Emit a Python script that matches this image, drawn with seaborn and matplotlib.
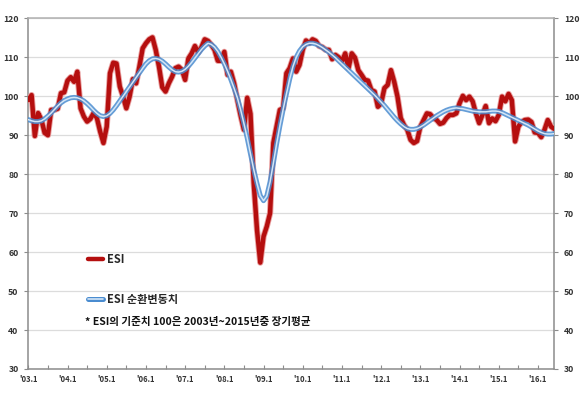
import numpy as np
import pandas as pd
import matplotlib
matplotlib.use("Agg")
import matplotlib.pyplot as plt
import seaborn as sns
from matplotlib.lines import Line2D
import matplotlib.patheffects as pe

# ==========================================
# DATA (monthly, 2003.1 ~ 2016.6)
# ==========================================

esi = [
    99.0, 100.3, 89.8, 95.7, 94.0, 90.6, 90.0, 96.5, 96.5, 96.8, 100.8, 101.0,   # 2003
    104.0, 104.9, 103.7, 106.3, 96.9, 94.8, 93.5, 94.2, 95.7, 94.4, 90.9, 88.0,   # 2004
    92.2, 105.9, 108.6, 108.4, 102.5, 99.9, 96.9, 99.9, 104.4, 103.3, 107.6, 112.3,  # 2005
    113.6, 114.6, 115.1, 111.9, 107.6, 102.3, 101.2, 103.3, 105.0, 107.2, 107.6, 106.8,  # 2006
    104.2, 109.7, 111.0, 112.9, 111.2, 112.6, 114.6, 114.2, 113.2, 111.9, 109.1, 109.1,  # 2007
    111.4, 105.5, 106.3, 103.3, 99.0, 95.0, 91.4, 99.6, 95.5, 77.7, 65.7, 57.3,   # 2008
    64.0, 66.6, 70.0, 88.0, 92.2, 96.5, 96.9, 105.9, 107.2, 109.7, 106.3, 108.0,   # 2009
    111.9, 114.3, 113.6, 114.6, 114.2, 112.9, 112.6, 111.9, 111.9, 109.5, 110.6, 110.0,  # 2010
    108.9, 111.0, 107.2, 111.0, 109.9, 106.7, 105.5, 104.2, 104.0, 101.6, 101.2, 97.3,  # 2011
    98.2, 102.1, 102.9, 106.7, 103.7, 99.9, 94.4, 92.6, 91.4, 88.8, 88.0, 88.5,   # 2012
    92.2, 93.9, 95.6, 95.4, 94.4, 93.9, 92.9, 93.2, 94.4, 95.2, 95.2, 95.6,   # 2013
    98.2, 100.1, 99.0, 99.9, 98.7, 95.6, 93.1, 95.2, 97.5, 93.1, 94.3, 93.6,   # 2014
    95.2, 99.9, 98.7, 100.6, 99.0, 88.4, 92.2, 93.4, 93.9, 94.0, 93.4, 90.7,   # 2015
    90.6, 89.5, 91.4, 93.9, 92.2, 91.6,   # 2016
]

esi_cycle = [
    94.0, 93.7, 93.5, 93.5, 93.7, 94.2, 94.9, 95.7, 96.6, 97.5, 98.3, 98.9,
    99.3, 99.6, 99.7, 99.6, 99.3, 98.8, 98.1, 97.3, 96.4, 95.6, 95.0, 94.8,
    95.0, 95.6, 96.5, 97.6, 98.8, 100.0, 101.2, 102.4, 103.6, 104.8, 106.0, 107.2,
    108.3, 109.1, 109.6, 109.7, 109.5, 109.0, 108.3, 107.5, 106.8, 106.3, 106.2, 106.4,
    106.9, 107.7, 108.7, 109.8, 110.9, 112.0, 112.9, 113.6, 113.3, 112.6, 111.5, 110.0,
    108.3, 106.4, 104.3, 102.0, 99.6, 96.5, 93.0, 89.3, 85.2, 81.2, 77.6, 74.5,
    73.2, 74.4, 78.0, 82.8, 87.8, 92.4, 96.6, 100.6, 104.4, 107.6, 110.0, 111.6,
    112.7, 113.3, 113.6, 113.6, 113.4, 113.0, 112.5, 111.9, 111.3, 110.6, 109.9, 109.1,
    108.3, 107.5, 106.7, 105.9, 105.1, 104.3, 103.5, 102.7, 101.9, 101.1, 100.3, 99.4,
    98.5, 97.6, 96.6, 95.6, 94.6, 93.7, 92.9, 92.2, 91.7, 91.5, 91.5, 91.7,
    92.1, 92.6, 93.2, 93.8, 94.4, 95.0, 95.5, 96.0, 96.4, 96.7, 96.9, 97.0,
    96.9, 96.8, 96.6, 96.4, 96.2, 96.1, 96.0, 96.0, 96.0, 96.1, 96.2, 96.2,
    96.1, 95.8, 95.4, 95.0, 94.6, 94.2, 93.8, 93.4, 93.0, 92.6, 92.1, 91.6,
    91.1, 90.7, 90.4, 90.3, 90.3, 90.4,
]

year_labels = ["'03.1", "'04.1", "'05.1", "'06.1", "'07.1", "'08.1", "'09.1",
               "'10.1", "'11.1", "'12.1", "'13.1", "'14.1", "'15.1", "'16.1"]

y_ticks = [30, 40, 50, 60, 70, 80, 90, 100, 110, 120]

df = pd.DataFrame({
    "month": np.arange(len(esi)),
    "ESI": esi,
    "cycle": esi_cycle,
})

# ==========================================
# STYLE
# ==========================================

sns.set_style("white")
plt.rcParams["font.family"] = ["Noto Sans CJK KR", "DejaVu Sans"]

red = "#B50F0F"
blue = "#4A8CD0"
light_blue = "#D3E6F7"

fig = plt.figure(figsize=(5.8, 3.99), dpi=100)
ax = fig.add_axes([0.0488, 0.0752, 0.9069, 0.8789])

# ==========================================
# LINES
# ==========================================

sns.lineplot(data=df, x="month", y="ESI", ax=ax, color=red, linewidth=3.2,
             path_effects=[pe.Stroke(linewidth=4.5, foreground="#E9A0A0"), pe.Normal()],
             zorder=3)
sns.lineplot(data=df, x="month", y="cycle", ax=ax, color=blue, linewidth=3.6,
             alpha=0.85, zorder=4)
sns.lineplot(data=df, x="month", y="cycle", ax=ax, color=light_blue, linewidth=1.1,
             zorder=5)

# ==========================================
# AXES
# ==========================================

ax.set_xlim(0, len(esi) - 1)
ax.set_ylim(30, 120)
ax.set_yticks(y_ticks)
ax.set_xticks(np.arange(0, len(esi), 12))
ax.set_xticklabels(year_labels)
ax.set_xticks(np.arange(6, len(esi), 12), minor=True)
ax.set_xlabel("")
ax.set_ylabel("")

ax.grid(axis="y", color="#DCDCDC", linewidth=0.9)
ax.set_axisbelow(True)
for side in ["left", "right", "bottom", "top"]:
    ax.spines[side].set_color("#8C8C8C")
    ax.spines[side].set_linewidth(1.1)
ax.spines["top"].set_color("#B0B0B0")

ax.tick_params(axis="y", which="both", left=True, right=True, labelleft=True,
               labelright=True, direction="out", length=3, width=0.8,
               color="#8C8C8C", labelsize=6.3, labelcolor="#333333", pad=4)
ax.tick_params(axis="x", which="both", bottom=True, direction="in", length=3,
               width=0.8, color="#8C8C8C", labelsize=5.5, labelcolor="#333333", pad=4)
for lab in ax.get_xticklabels() + ax.get_yticklabels():
    lab.set_fontweight("bold")

# ==========================================
# LEGEND AND NOTE
# ==========================================

if ax.get_legend() is not None:
    ax.get_legend().remove()

h_esi = Line2D([0], [0], color=red, linewidth=3.2)
h_cyc = Line2D([0], [0], color=blue, linewidth=3.6,
               path_effects=[pe.Normal(), pe.Stroke(linewidth=1.2, foreground=light_blue)])
leg = ax.legend([h_esi, h_cyc], ["ESI", "ESI 순환변동치"], loc="upper left",
                bbox_to_anchor=(0.095, 0.36), frameon=False, labelspacing=2.45,
                handlelength=1.3, handletextpad=0.35,
                prop={"weight": "bold", "size": 8})

ax.text(0.108, 0.134, "* ESI의 기준치 100은 2003년~2015년중 장기평균",
        transform=ax.transAxes, fontsize=7.6, fontweight="bold", color="#111111",
        va="center")

fig.savefig("out.png", dpi=100)
